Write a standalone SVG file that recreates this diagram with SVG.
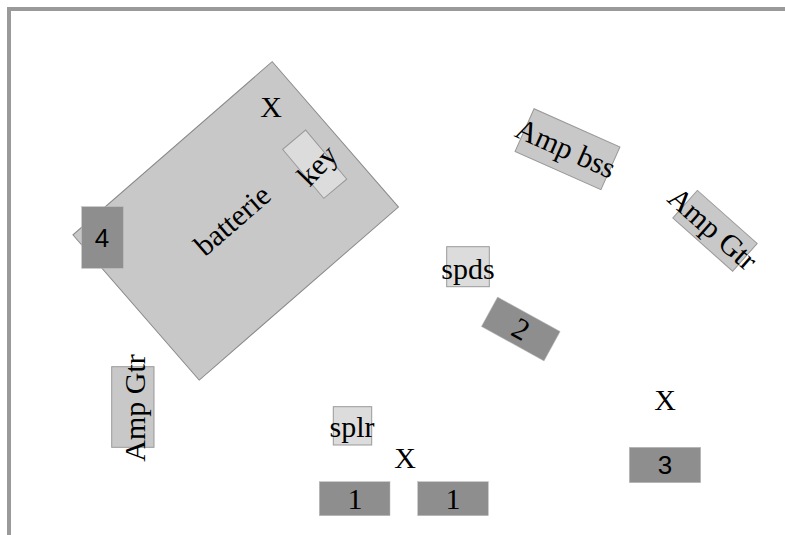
<svg xmlns="http://www.w3.org/2000/svg" width="785" height="535" viewBox="0 0 785 535">
<style>
text{font-family:"Liberation Serif","Times New Roman",serif;font-size:30px;fill:#000;text-anchor:middle}
.sans{font-family:"Liberation Sans",Arial,sans-serif;font-size:26px}
.big{fill:#c8c8c8;stroke:#8a8a8a;stroke-width:1}
.amp{fill:#c8c8c8;stroke:#999;stroke-width:1}
.lite{fill:#dcdcdc;stroke:#999;stroke-width:1}
.num{fill:#8e8e8e;stroke:#bbb;stroke-width:0.5}
</style>
<rect x="9" y="9" width="800" height="560" fill="#fff" stroke="#9a9a9a" stroke-width="4"/>
<g id="batterie" transform="translate(235.7,220.9) rotate(-41)">
<rect class="big" x="-132" y="-96.25" width="264" height="192.5"/>
</g>
<text transform="translate(233,221) rotate(-41)" y="9">batterie</text>
<g id="key">
<rect class="lite" transform="translate(314.7,164.2) rotate(50)" x="-32" y="-15" width="64" height="30"/>
<text transform="translate(318,166) rotate(-46)" y="9">key</text>
</g>
<text id="x1" x="271" y="117">X</text>
<g id="box4">
<rect class="num" x="81.7" y="206.7" width="41.6" height="61.6"/>
<text class="sans" x="102" y="247">4</text>
</g>
<g id="ampbss" transform="translate(567.5,149.2) rotate(24)">
<rect class="amp" x="-47" y="-23.35" width="94" height="46.7"/>
<text x="-2" y="10">Amp bss</text>
</g>
<g id="ampgtr-right" transform="translate(715,230.8) rotate(41.6)">
<rect class="amp" x="-40" y="-18.5" width="80" height="37"/>
<text x="-3" y="10">Amp Gtr</text>
</g>
<g id="spds">
<rect class="lite" x="446.7" y="246.7" width="42.6" height="40"/>
<text x="468" y="279">spds</text>
</g>
<g id="box2" transform="translate(520.8,329) rotate(28.8)">
<rect class="num" x="-35.7" y="-16.75" width="71.4" height="33.5"/>
<text x="0" y="10">2</text>
</g>
<g id="ampgtr-left">
<rect class="amp" x="111.7" y="366.7" width="42.3" height="80.6"/>
<text transform="translate(135,408) rotate(-90)" y="10">Amp Gtr</text>
</g>
<g id="splr">
<rect class="lite" x="333.3" y="406.7" width="38.4" height="38.3"/>
<text x="352" y="437">splr</text>
</g>
<text id="x2" x="405" y="468">X</text>
<text id="x3" x="665" y="410">X</text>
<g id="box1a">
<rect class="num" x="319.3" y="481.7" width="70.7" height="34"/>
<text x="355" y="509">1</text>
</g>
<g id="box1b">
<rect class="num" x="417.7" y="481.7" width="70.6" height="34"/>
<text x="453" y="509">1</text>
</g>
<g id="box3">
<rect class="num" x="629.3" y="447.3" width="71.4" height="35.4"/>
<text class="sans" x="665" y="474">3</text>
</g>
</svg>
